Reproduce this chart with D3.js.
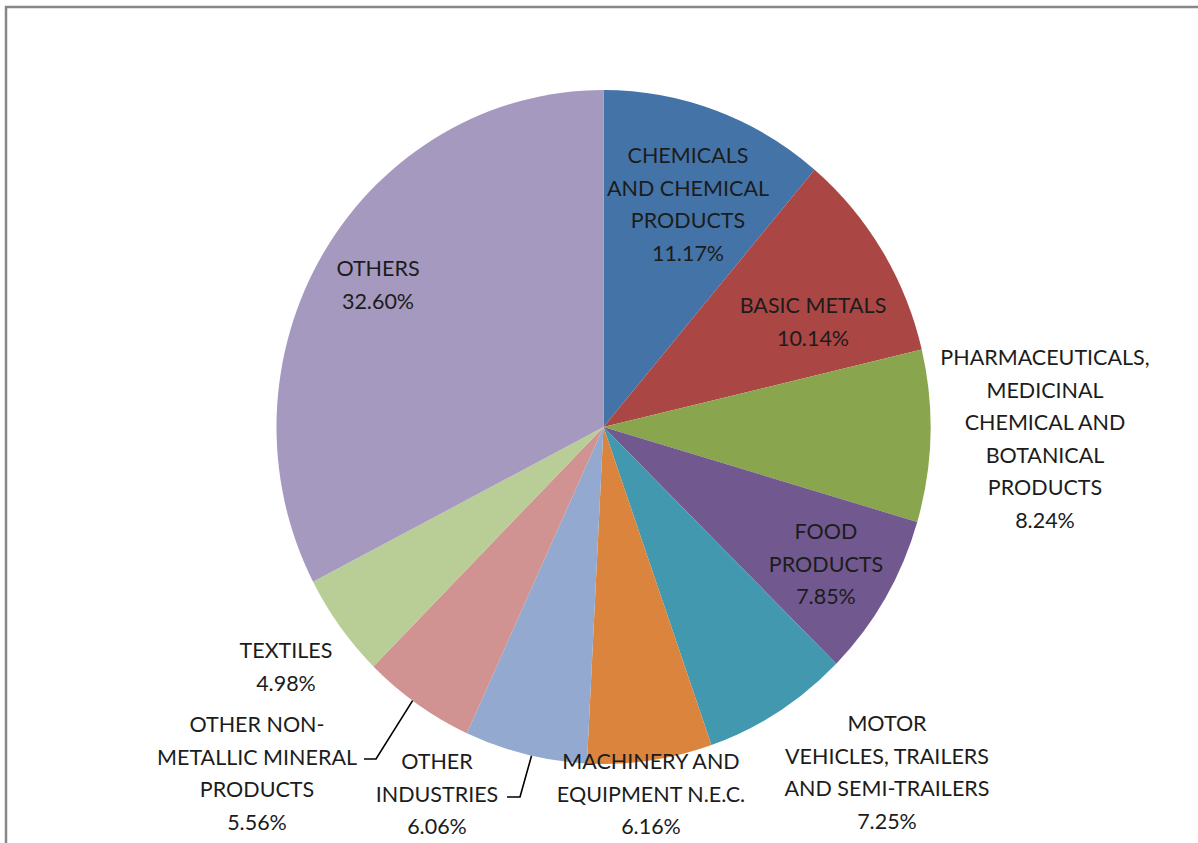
<!DOCTYPE html>
<html><head><meta charset="utf-8">
<script src="https://cdn.jsdelivr.net/npm/d3@7"></script>
<style>html,body{margin:0;padding:0;background:#fff;}svg{display:block;}</style>
</head><body>
<svg id="c" width="1198" height="843"></svg>
<script>
// ---- data ----
const categories = [
  "CHEMICALS AND CHEMICAL PRODUCTS",
  "BASIC METALS",
  "PHARMACEUTICALS, MEDICINAL CHEMICAL AND BOTANICAL PRODUCTS",
  "FOOD PRODUCTS",
  "MOTOR VEHICLES, TRAILERS AND SEMI-TRAILERS",
  "MACHINERY AND EQUIPMENT N.E.C.",
  "OTHER INDUSTRIES",
  "OTHER NON-METALLIC MINERAL PRODUCTS",
  "TEXTILES",
  "OTHERS"
];
const shares = [11.17, 10.14, 8.24, 7.85, 7.25, 6.16, 6.06, 5.56, 4.98, 32.60];
const labelLines = [
  ["CHEMICALS", "AND CHEMICAL", "PRODUCTS"],
  ["BASIC METALS"],
  ["PHARMACEUTICALS,", "MEDICINAL", "CHEMICAL AND", "BOTANICAL", "PRODUCTS"],
  ["FOOD", "PRODUCTS"],
  ["MOTOR", "VEHICLES, TRAILERS", "AND SEMI-TRAILERS"],
  ["MACHINERY AND", "EQUIPMENT N.E.C."],
  ["OTHER", "INDUSTRIES"],
  ["OTHER NON-", "METALLIC MINERAL", "PRODUCTS"],
  ["TEXTILES"],
  ["OTHERS"]
];
const colors = ["#4473a7","#aa4643","#89a54e","#71588f","#4198af","#db843d","#93a9cf","#d19392","#b9cd96","#a599bf"];

// ---- layout ----
const W = 1198, H = 843;
const cx = 603.5, cy = 427, rx = 327, ry = 337;
const lineH = 32.5;
// label block centre (x, y of first line centre), in page px
const labelAt = [
  [688, 155], [813, 305], [1045, 357], [826, 531], [887, 723],
  [651, 761], [437, 761], [257, 724], [286, 650], [378, 268]
];
// leader lines for the two labels that sit outside their slices
const leaders = {
  7: {r: 1.0, frac: 0.55, pts: [[376, 759], [364, 759]]},
  6: {r: 1.0, frac: 0.45, pts: [[520, 797], [507, 797]]}
};

const svg = d3.select("#c");

// chart frame
svg.append("rect").attr("x", 6).attr("y", 7).attr("width", W).attr("height", H)
  .attr("fill", "#fff").attr("stroke", "#878787").attr("stroke-width", 2.5);

const pie = d3.pie().sort(null).value(d => d)(shares);
const arc = d3.arc().innerRadius(0).outerRadius(rx);

const g = svg.append("g").attr("transform", `translate(${cx},${cy}) scale(1,${ry/rx})`);
g.selectAll("path").data(pie).join("path")
  .attr("d", arc)
  .attr("fill", (d, i) => colors[i]);

// leader lines
Object.entries(leaders).forEach(([k, L]) => {
  const d = pie[+k];
  const a = d.startAngle + (d.endAngle - d.startAngle) * L.frac;
  const px = cx + rx * L.r * Math.sin(a);
  const py = cy - ry * L.r * Math.cos(a);
  const pts = [[px, py]].concat(L.pts);
  svg.append("path").attr("d", d3.line()(pts))
    .attr("fill", "none").attr("stroke", "#000").attr("stroke-width", 1.6);
});

// labels
const lab = svg.append("g")
  .attr("font-family", "Lato, 'Open Sans', sans-serif")
  .attr("font-size", 21.5)
  .attr("fill", "#1c1c1c")
  .attr("text-anchor", "middle");
labelLines.forEach((lines, i) => {
  const [x, y] = labelAt[i];
  const all = lines.concat([shares[i].toFixed(2) + "%"]);
  const t = lab.append("text").attr("x", x).attr("y", y).attr("dominant-baseline", "central");
  all.forEach((s, j) => {
    t.append("tspan").attr("x", x).attr("y", y + j * lineH).text(s);
  });
});
</script>
</body></html>
